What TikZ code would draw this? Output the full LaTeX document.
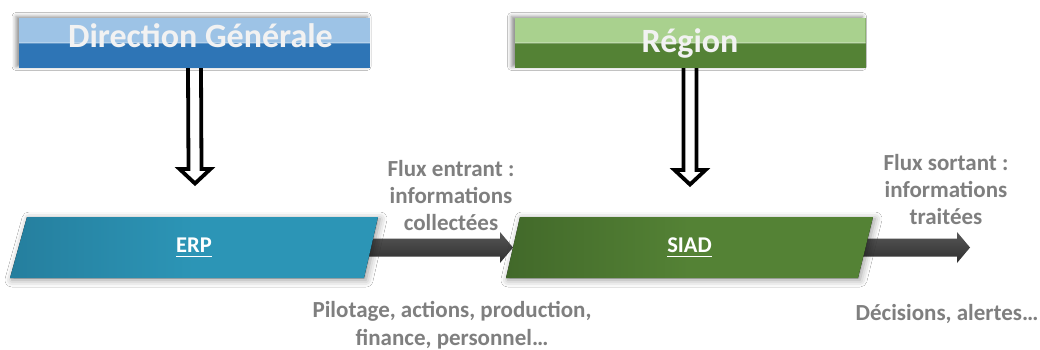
\documentclass[tikz,border=0pt]{standalone}
\usepackage{fontspec}
\setmainfont{Carlito}
\usetikzlibrary{arrows.meta,calc,shadows.blur}

\definecolor{dglight}{HTML}{9DC3E6}
\definecolor{dgdark}{HTML}{2E75B6}
\definecolor{rglight}{HTML}{A9D18E}
\definecolor{rgdark}{HTML}{548235}
\definecolor{erpcol}{HTML}{2C95B6}
\definecolor{erpdark}{HTML}{1F6C8A}
\definecolor{siadcol}{HTML}{548235}
\definecolor{siaddark}{HTML}{3A5E25}
\definecolor{flowgray}{HTML}{7F7F7F}
\definecolor{arrowdark}{HTML}{2E2E2E}
\definecolor{arrowlight}{HTML}{575757}

% underline drawn as a rule a little below the baseline
\newcommand{\thickul}[1]{\setbox0\hbox{#1}\rlap{\usebox0}\rule[-5pt]{\wd0}{1.6pt}}

\tikzset{
  titlebar/.style={minimum width=351pt, minimum height=50pt, inner sep=0pt,
    blur shadow={shadow xshift=-3pt, shadow yshift=1.5pt, shadow blur radius=4pt, shadow opacity=45}},
  titletext/.style={anchor=base, inner sep=0pt, text=white!95!black,
    font=\fontsize{34}{38}\selectfont\bfseries},
  plateshape/.style={blur shadow={shadow xshift=2pt, shadow yshift=-2pt, shadow blur radius=7pt, shadow opacity=40}},
  platelabel/.style={minimum width=330pt, minimum height=61pt, inner sep=0pt,
    text=white, font=\fontsize{22.5}{26}\selectfont\bfseries},
  flowtext/.style={anchor=north, inner sep=0pt, align=center, text=flowgray,
    font=\fontsize{23}{27}\selectfont\bfseries},
  hollow/.style={draw=black, line width=3.8pt, line join=miter,
    to path={($(\tikztostart)+(-6.5,0)$) -- ($(\tikztotarget)+(-6.5,-14.5)$)
      -- ($(\tikztotarget)+(-15.5,-14.5)$) -- (\tikztotarget)
      -- ($(\tikztotarget)+(15.5,-14.5)$) -- ($(\tikztotarget)+(6.5,-14.5)$)
      -- ($(\tikztostart)+(6.5,0)$)}},
  blockarrow/.style={top color=arrowlight, bottom color=arrowdark,
    to path={($(\tikztostart)+(0,-9)$) -- ($(\tikztotarget)+(-13,-9)$)
      -- ($(\tikztotarget)+(-13,-15.5)$) -- (\tikztotarget)
      -- ($(\tikztotarget)+(-13,15.5)$) -- ($(\tikztotarget)+(-13,9)$)
      -- ($(\tikztostart)+(0,9)$) -- cycle}}
}

\begin{document}
\begin{tikzpicture}[x=1pt, y=-1pt]
  \useasboundingbox (0,0) rectangle (1040,350);
  \fill[white] (0,0) rectangle (1040,350);

  % two-tone title bars
  \node[titlebar, fill=dgdark, path picture={
      \fill[dglight] (path picture bounding box.north west) rectangle (path picture bounding box.east);
      \draw[white, opacity=0.25, line width=1.2pt] (path picture bounding box.west) -- (path picture bounding box.east);}]
    (dg) at (194.5,43) {};
  \node[titlebar, fill=rgdark, path picture={
      \fill[rglight] (path picture bounding box.north west) rectangle (path picture bounding box.east);
      \draw[white, opacity=0.25, line width=1.2pt] (path picture bounding box.west) -- (path picture bounding box.east);}]
    (rg) at (690,43) {};

  \node[titletext] (dgtext) at (200.5,48) {Direction Générale};
  \node[titletext] (rgtext) at (690,53)   {Région};

  % hollow down arrows
  \coordinate (erptop)  at (195,183.5);
  \coordinate (siadtop) at (690,184.5);
  \draw[hollow] (dg.south) to (erptop);
  \draw[hollow] (rg.south) to (siadtop);

  % flow arrows, drawn first so the plates overlap them
  \coordinate (erpmid)  at (194,247.5);
  \coordinate (siadin)  at (513,247.5);
  \coordinate (siadmid) at (689.5,247.5);
  \coordinate (outtip)  at (970,247.5);
  \path[blockarrow] (erpmid) to (siadin);
  \path[blockarrow] (siadmid) to (outtip);

  % slanted plates
  \fill[plateshape, left color=erpdark!55!erpcol, right color=erpcol, middle color=erpcol]
    (27,217) -- (378,217) -- (364,278) -- (10,278) -- cycle;
  \fill[plateshape, left color=siaddark!70!siadcol, right color=siadcol, middle color=siadcol]
    (520,217) -- (873,217) -- (858,278) -- (506,278) -- cycle;
  \node[platelabel] (erp)  at (erpmid)  {\thickul{ERP}};
  \node[platelabel] (siad) at (siadmid) {\thickul{SIAD}};

  % captions
  \node[flowtext] (fin)  at (451,160) {Flux entrant :\\informations\\collectées};
  \node[flowtext] (fout) at (946,154) {Flux sortant :\\informations\\traitées};
  \node[flowtext, font=\fontsize{23}{28}\selectfont\bfseries] (pil) at (452,301)
    {Pilotage, actions, production,\\finance, personnel…};
  \node[flowtext] (dec)  at (947,304) {Décisions, alertes…};
\end{tikzpicture}
\end{document}
